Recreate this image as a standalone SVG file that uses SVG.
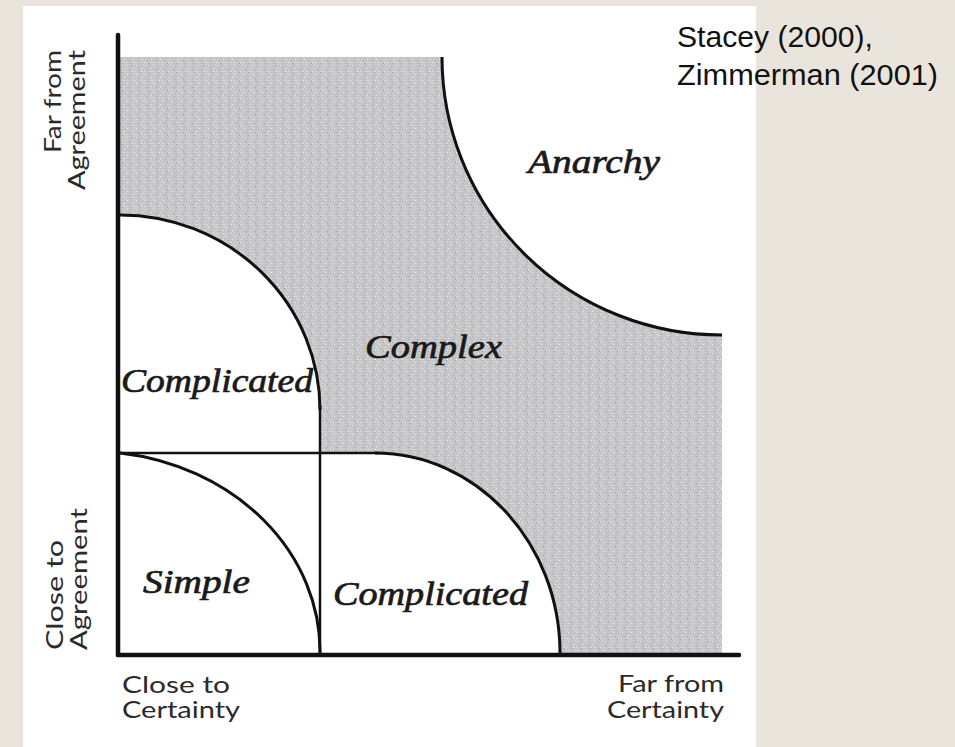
<svg xmlns="http://www.w3.org/2000/svg" width="955" height="747" viewBox="0 0 955 747">
  <defs>
    <style>
      .axis { stroke: #111; stroke-width: 4.5; fill: none; stroke-linecap: round; }
      .curve { stroke: #111; stroke-width: 3; fill: none; }
      .rule { stroke: #111; stroke-width: 2.5; fill: none; }
      .region { font-family: "Liberation Serif", "DejaVu Serif", serif; font-style: italic; font-weight: normal; fill: #1a1a1a; stroke: #1a1a1a; stroke-width: 0.7; }
      .axislabel { font-family: "Lato", "Open Sans", "Liberation Sans", sans-serif; font-size: 24px; fill: #2a2a2a; }
      .cite { font-family: "Liberation Sans", Arial, sans-serif; font-size: 29px; fill: #111; }
    </style>
    <!-- stippled halftone grey used for the complex zone -->
    <pattern id="stipple" width="9" height="9" patternUnits="userSpaceOnUse">
      <rect width="9" height="9" fill="#c6c6c8"/>
      <rect x="1" y="2" width="1" height="1" fill="#f4f4f4"/>
      <rect x="5" y="0" width="1" height="1" fill="#9a9aa6"/>
      <rect x="7" y="5" width="1" height="1" fill="#eeeeee"/>
      <rect x="3" y="6" width="1" height="1" fill="#a0a0aa"/>
      <rect x="0" y="8" width="1" height="1" fill="#e8e8e8"/>
      <rect x="4" y="3" width="1" height="1" fill="#b0b0b8"/>
      <rect x="8" y="1" width="1" height="1" fill="#dcdcdc"/>
      <rect x="6" y="8" width="1" height="1" fill="#fafafa"/>
    </pattern>
  </defs>

  <!-- page background and white sheet -->
  <rect width="955" height="747" fill="#e9e5dc"/>
  <rect x="23" y="6" width="733" height="741" fill="#ffffff"/>

  <!-- complex zone: everything inside the axes not taken by the other zones -->
  <g id="complex-zone">
    <path fill="url(#stipple)" d="M121,57 H442 A280,278 0 0 0 722,335 V653 H560 C560,543 477,453 375,453 H320 V410 A200,195 0 0 0 120,215 V57 Z"/>
  </g>

  <!-- boundaries and axes -->
  <g id="connectors">
    <line class="axis" x1="118" y1="35" x2="118" y2="655"/>
    <line class="axis" x1="118" y1="655" x2="739" y2="655"/>
    <path class="curve" d="M442,57 A280,278 0 0 0 722,335"/>
    <path class="curve" d="M120,215 A200,195 0 0 1 320,410"/>
    <line class="rule" x1="320" y1="405" x2="320" y2="653"/>
    <line class="rule" x1="120" y1="453" x2="378" y2="453"/>
    <path class="curve" d="M375,453 C477,453 560,543 560,653"/>
    <path class="curve" d="M120,453 A230,200 0 0 1 320,653"/>
  </g>

  <!-- zone labels -->
  <g id="anarchy"><text class="region" x="528" y="173" font-size="33" textLength="132" lengthAdjust="spacingAndGlyphs">Anarchy</text></g>
  <g id="complex"><text class="region" x="365" y="358" font-size="33" textLength="137" lengthAdjust="spacingAndGlyphs">Complex</text></g>
  <g id="complicated-upper"><text class="region" x="121" y="392" font-size="33" textLength="192" lengthAdjust="spacingAndGlyphs">Complicated</text></g>
  <g id="simple"><text class="region" x="143" y="593" font-size="33" textLength="107" lengthAdjust="spacingAndGlyphs">Simple</text></g>
  <g id="complicated-lower"><text class="region" x="333" y="605" font-size="33" textLength="195" lengthAdjust="spacingAndGlyphs">Complicated</text></g>

  <!-- axis labels, two lines each -->
  <g id="far-from-agreement">
    <text class="axislabel" transform="translate(0,50) rotate(-90)">
      <tspan x="-103" y="61" textLength="103" lengthAdjust="spacingAndGlyphs">Far from</tspan>
      <tspan x="-140" y="85" textLength="140" lengthAdjust="spacingAndGlyphs">Agreement</tspan>
    </text>
  </g>
  <g id="close-to-agreement">
    <text class="axislabel" transform="translate(0,650) rotate(-90)">
      <tspan x="0" y="63" textLength="110" lengthAdjust="spacingAndGlyphs">Close to</tspan>
      <tspan x="0" y="87" textLength="142" lengthAdjust="spacingAndGlyphs">Agreement</tspan>
    </text>
  </g>
  <g id="close-to-certainty">
    <text class="axislabel">
      <tspan x="122" y="693" textLength="108" lengthAdjust="spacingAndGlyphs">Close to</tspan>
      <tspan x="122" y="718" textLength="118" lengthAdjust="spacingAndGlyphs">Certainty</tspan>
    </text>
  </g>
  <g id="far-from-certainty">
    <text class="axislabel">
      <tspan x="618" y="692" textLength="106" lengthAdjust="spacingAndGlyphs">Far from</tspan>
      <tspan x="607" y="718" textLength="117" lengthAdjust="spacingAndGlyphs">Certainty</tspan>
    </text>
  </g>

  <!-- source citation -->
  <g id="citation">
    <text class="cite">
      <tspan x="677" y="47" textLength="196" lengthAdjust="spacingAndGlyphs">Stacey (2000),</tspan>
      <tspan x="677" y="85" textLength="261" lengthAdjust="spacingAndGlyphs">Zimmerman (2001)</tspan>
    </text>
  </g>
</svg>
